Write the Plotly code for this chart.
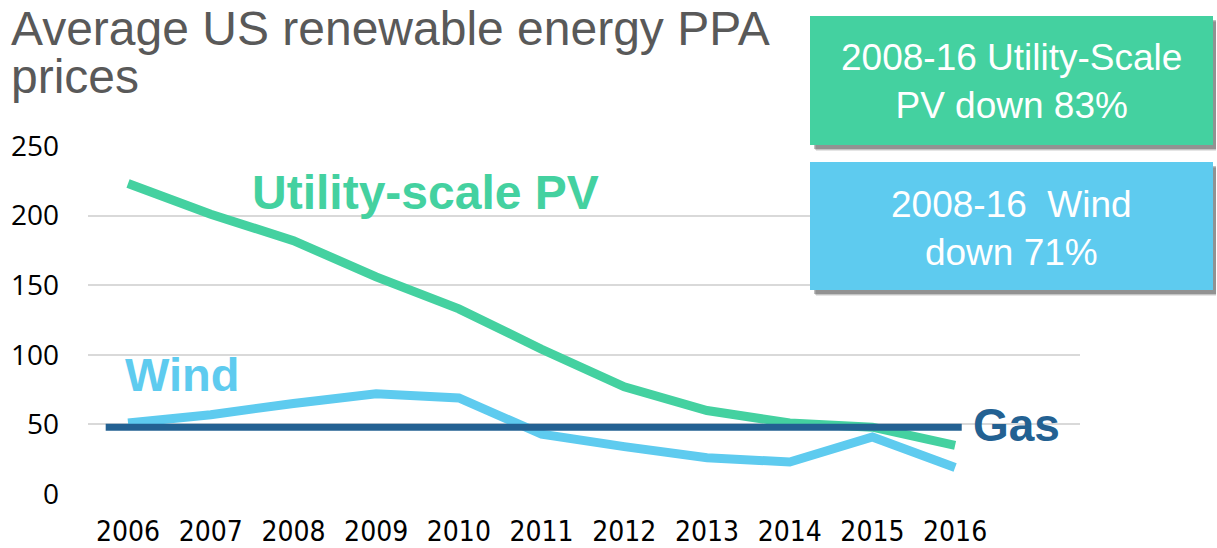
import plotly.graph_objects as go

years = [2006, 2007, 2008, 2009, 2010, 2011, 2012, 2013, 2014, 2015, 2016]
pv_prices = [223, 201, 182, 156, 133, 104, 77, 60, 51, 48, 35]
wind_prices = [51, 57, 65, 72, 69, 43, 34, 26, 23, 41, 19]
gas_price = 48
gas_span = [2005.73, 2016.08]
y_ticks = [0, 50, 100, 150, 200, 250]

PV_C = "#44D1A0"
WIND_C = "#5ECBEF"
GAS_C = "#236192"

W, H = 1217, 548
L, R, T, B = 88, 137, 146, 54
PW, PH = W - L - R, H - T - B


def px(x):
    return (x - L) / PW


def py(y):
    return (H - B - y) / PH


fig = go.Figure()
fig.add_trace(go.Scatter(x=years, y=wind_prices, mode="lines",
                         line=dict(color=WIND_C, width=9), hoverinfo="skip"))
fig.add_trace(go.Scatter(x=years, y=pv_prices, mode="lines",
                         line=dict(color=PV_C, width=9), hoverinfo="skip"))
fig.add_trace(go.Scatter(x=gas_span, y=[gas_price, gas_price], mode="lines",
                         line=dict(color=GAS_C, width=7), hoverinfo="skip"))

shapes = []
for (x0, y0, x1, y1, col) in [(810, 16, 1213, 145, PV_C), (810, 162, 1213, 290, WIND_C)]:
    for off, op in [(6, 0.10), (5, 0.15), (4, 0.25)]:
        shapes.append(dict(type="rect", xref="paper", yref="paper",
                           x0=px(x0 + off), x1=px(min(x1 + off, 1216)), y0=py(y1 + off), y1=py(y0 + off),
                           line=dict(width=0), fillcolor="rgba(0,0,0,%s)" % op, layer="above"))
    shapes.append(dict(type="rect", xref="paper", yref="paper",
                       x0=px(x0), x1=px(x1), y0=py(y1), y1=py(y0),
                       line=dict(width=0), fillcolor=col, layer="above"))

annotations = [
    dict(text="Average US renewable energy PPA", x=px(9), y=py(28), xref="paper", yref="paper",
         xanchor="left", yanchor="middle", showarrow=False,
         font=dict(family="Liberation Sans, Arial", size=48, color="#595959")),
    dict(text="prices", x=px(9), y=py(76), xref="paper", yref="paper",
         xanchor="left", yanchor="middle", showarrow=False,
         font=dict(family="Liberation Sans, Arial", size=48, color="#595959")),
    dict(text="<b>Utility-scale PV</b>", x=px(425), y=py(192), xref="paper", yref="paper",
         xanchor="center", yanchor="middle", showarrow=False,
         font=dict(family="Liberation Sans, Arial", size=48, color=PV_C)),
    dict(text="<b>Wind</b>", x=px(182), y=py(374), xref="paper", yref="paper",
         xanchor="center", yanchor="middle", showarrow=False,
         font=dict(family="Liberation Sans, Arial", size=47, color=WIND_C)),
    dict(text="<b>Gas</b>", x=px(1016), y=py(425), xref="paper", yref="paper",
         xanchor="center", yanchor="middle", showarrow=False,
         font=dict(family="Liberation Sans, Arial", size=46, color=GAS_C)),
    dict(text="2008-16 Utility-Scale<br>PV down 83%", x=px(1011), y=py(81), xref="paper", yref="paper",
         xanchor="center", yanchor="middle", showarrow=False,
         font=dict(family="Liberation Sans, Arial", size=37, color="white")),
    dict(text="2008-16  Wind<br>down 71%", x=px(1011), y=py(228), xref="paper", yref="paper",
         xanchor="center", yanchor="middle", showarrow=False,
         font=dict(family="Liberation Sans, Arial", size=37, color="white")),
]

fig.update_layout(
    width=W, height=H,
    margin=dict(l=L, r=R, t=T, b=B, autoexpand=False),
    paper_bgcolor="white", plot_bgcolor="white",
    showlegend=False,
    shapes=shapes,
    annotations=annotations,
    xaxis=dict(range=[2005.516, 2017.51], tickmode="array", tickvals=years,
               ticktext=[str(y) for y in years], showgrid=False, zeroline=False,
               showline=False, ticks="", ticklabelstandoff=18, automargin=False,
               tickfont=dict(family="Liberation Sans Narrow, DejaVu Sans Condensed, Liberation Sans",
                             size=28, color="black")),
    yaxis=dict(range=[0, 250], tickvals=y_ticks, showgrid=True, gridcolor="#D9D9D9",
               gridwidth=2, zeroline=False, showline=False, ticks="",
               ticklabelstandoff=28, automargin=False,
               tickfont=dict(family="Open Sans, DejaVu Sans", size=28, color="black")),
)

fig.write_html("out.html", config={"displayModeBar": False, "staticPlot": True},
               post_script="document.body.style.margin='0';document.body.style.overflow='hidden';")
